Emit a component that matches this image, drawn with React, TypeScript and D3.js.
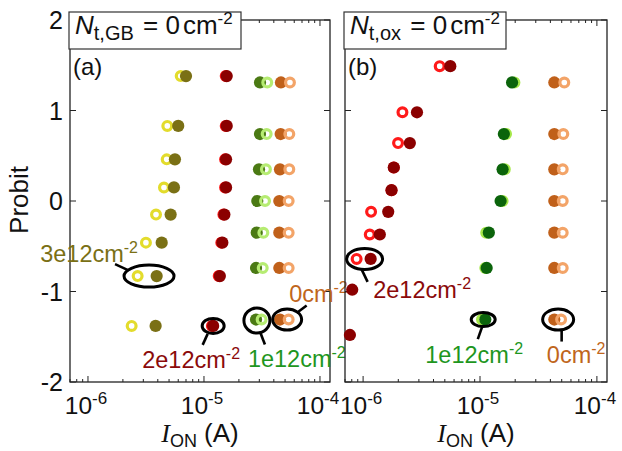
import React from 'react';
import * as d3 from 'd3';

// probit levels
const probit8 = [1.38, 0.83, 0.46, 0.15, -0.15, -0.46, -0.83, -1.38];
const probit7 = [1.31, 0.74, 0.35, 0, -0.35, -0.74, -1.31];
const probit10 = [1.49, 0.98, 0.64, 0.37, 0.12, -0.12, -0.37, -0.64, -0.98, -1.48];

// panel (a): N_t,GB = 0
const a3e12Open = [6.3e-6, 4.83e-6, 4.77e-6, 4.52e-6, 3.86e-6, 3.16e-6, 2.68e-6, 2.38e-6];
const a3e12Filled = [7.0e-6, 6.0e-6, 5.62e-6, 5.51e-6, 5.16e-6, 4.32e-6, 3.91e-6, 3.83e-6];
const a2e12Open = [1.54e-5, 1.54e-5, 1.52e-5, 1.52e-5, 1.47e-5, 1.41e-5, 1.34e-5, 1.17e-5];
const a2e12Filled = [1.57e-5, 1.57e-5, 1.55e-5, 1.55e-5, 1.5e-5, 1.44e-5, 1.37e-5, 1.2e-5];
const a1e12Filled = [3.04e-5, 3.04e-5, 2.98e-5, 2.88e-5, 2.85e-5, 2.81e-5, 2.81e-5];
const a1e12Open = [3.51e-5, 3.47e-5, 3.42e-5, 3.36e-5, 3.25e-5, 3.21e-5, 3.14e-5];
const a0Filled = [4.61e-5, 4.58e-5, 4.52e-5, 4.46e-5, 4.46e-5, 4.46e-5, 4.52e-5];
const a0Open = [5.51e-5, 5.44e-5, 5.44e-5, 5.37e-5, 5.37e-5, 5.37e-5, 5.37e-5];

// panel (b): N_t,ox = 0
const b2e12Open = [4.52e-6, 2.17e-6, 1.99e-6, 1.83e-6, 1.75e-6, 1.17e-6, 1.14e-6, 8.8e-7];
const b2e12Filled = [5.57e-6, 2.89e-6, 2.51e-6, 1.83e-6, 1.75e-6, 1.64e-6, 1.39e-6, 1.16e-6, 8.07e-7, 7.71e-7];
const b1e12Open = [1.97e-5, 1.67e-5, 1.63e-5, 1.56e-5, 1.13e-5, 1.11e-5, 1.04e-5];
const b1e12Filled = [1.88e-5, 1.6e-5, 1.56e-5, 1.5e-5, 1.19e-5, 1.14e-5, 1.11e-5];
const b0Filled = [4.32e-5, 4.32e-5, 4.32e-5, 4.32e-5, 4.32e-5, 4.32e-5, 4.32e-5];
const b0Open = [5.26e-5, 5.16e-5, 5.1e-5, 5.1e-5, 5.1e-5, 5.1e-5, 4.94e-5];

const yTicks = [-2, -1, 0, 1, 2];
const xTickExps = [-6, -5, -4];

interface Series { x: number[]; p: number[]; color: string; open: boolean }
interface Note {
  x: number; p: number; rx: number; ry: number;
  lead: [number, number, number, number];
  text: string; color: string; dx: number; dy: number; anchor: string;
}

const seriesA: Series[] = [
  { x: a3e12Open, p: probit8, color: '#e3dc2c', open: true },
  { x: a3e12Filled, p: probit8, color: '#7a7015', open: false },
  { x: a2e12Open, p: probit8, color: '#ff1a1a', open: true },
  { x: a2e12Filled, p: probit8, color: '#8b0000', open: false },
  { x: a1e12Filled, p: probit7, color: '#4b7a14', open: false },
  { x: a1e12Open, p: probit7, color: '#b6ec72', open: true },
  { x: a0Filled, p: probit7, color: '#c0601a', open: false },
  { x: a0Open, p: probit7, color: '#f3a468', open: true },
];

const seriesB: Series[] = [
  { x: b2e12Open, p: probit10.slice(0, 8), color: '#ff1a1a', open: true },
  { x: b2e12Filled, p: probit10, color: '#8b0000', open: false },
  { x: b1e12Open, p: probit7, color: '#a6e84a', open: true },
  { x: b1e12Filled, p: probit7, color: '#0b640b', open: false },
  { x: b0Filled, p: probit7, color: '#c0601a', open: false },
  { x: b0Open, p: probit7, color: '#f3a468', open: true },
];

const notesA: Note[] = [
  { x: 3.36e-6, p: -0.83, rx: 25, ry: 11, lead: [-34, -12, -21, -6], text: '3e12', color: '#7a7015', dx: -11, dy: -14, anchor: 'end' },
  { x: 1.2e-5, p: -1.38, rx: 11, ry: 7.5, lead: [-5.5, 8, -10.5, 19], text: '2e12', color: '#8b0a0a', dx: -22, dy: 42, anchor: 'middle' },
  { x: 2.86e-5, p: -1.32, rx: 13, ry: 12.5, lead: [3, 11, 8, 24], text: '1e12', color: '#1e961e', dx: -9, dy: 47, anchor: 'start' },
  { x: 5.21e-5, p: -1.31, rx: 14.5, ry: 10.5, lead: [9.5, -6.5, 19.5, -14], text: '0', color: '#c0661c', dx: 2, dy: -18, anchor: 'start' },
];

const notesB: Note[] = [
  { x: 1.03e-6, p: -0.64, rx: 18, ry: 10.5, lead: [-3, 10.5, 3, 23], text: '2e12', color: '#8b0a0a', dx: 8.6, dy: 39.5, anchor: 'start' },
  { x: 1.065e-5, p: -1.31, rx: 12, ry: 7, lead: [-1, 7, -5.4, 19.6], text: '1e12', color: '#1e961e', dx: -9, dy: 43, anchor: 'middle' },
  { x: 4.66e-5, p: -1.31, rx: 15.5, ry: 10.5, lead: [3.5, 10.3, 3.5, 22], text: '0', color: '#c0661c', dx: 18, dy: 43, anchor: 'middle' },
];

const SANS = '"Liberation Sans", Arial, sans-serif';
const SERIF = '"Liberation Serif", "Times New Roman", serif';
const top = 20;
const bottom = 382;

const Panel: React.FC<{
  left: number; right: number; series: Series[]; notes: Note[];
  tag: string; sub: string; boxW: number; yLabels: boolean;
}> = ({ left, right, series, notes, tag, sub, boxW, yLabels }) => {
  const x = d3.scaleLog().domain([7.0e-7, 1.22e-4]).range([left, right]);
  const y = d3.scaleLinear().domain([-2, 2]).range([bottom, top]);
  const ticks = x.ticks().filter(t => t >= 7.0e-7 && t <= 1.22e-4);
  const isMajor = (t: number) => Math.abs(Math.log10(t) - Math.round(Math.log10(t))) < 1e-6;
  const axisColor = '#222';

  return (
    <g>
      {/* frame */}
      <rect x={left} y={top} width={right - left} height={bottom - top} fill="none" stroke={axisColor} strokeWidth={1.3} />
      {ticks.map((t, i) => {
        const len = isMajor(t) ? 6 : 3;
        return (
          <g key={i} stroke={axisColor} strokeWidth={1}>
            <line x1={x(t)} x2={x(t)} y1={bottom} y2={bottom - len} />
            <line x1={x(t)} x2={x(t)} y1={top} y2={top + len} />
          </g>
        );
      })}
      {yTicks.map(t => (
        <g key={t} stroke={axisColor} strokeWidth={1}>
          <line x1={left} x2={left + 6} y1={y(t)} y2={y(t)} />
          <line x1={right} x2={right - 6} y1={y(t)} y2={y(t)} />
        </g>
      ))}
      {yLabels && yTicks.map(t => (
        <text key={t} x={left - 7} y={y(t)} dy="0.36em" textAnchor="end" fontSize={25} fontFamily={SANS} fill="#111">
          {t}
        </text>
      ))}
      {xTickExps.map(e => (
        <text key={e} x={x(Math.pow(10, e)) - 2} y={414} textAnchor="middle" fontSize={24.5} fontFamily={SANS} fill="#111">
          10<tspan fontSize={17} dy={-10}>{e}</tspan>
        </text>
      ))}
      <text x={(left + right) / 2} y={442} textAnchor="middle" fontSize={26} fontFamily={SANS} fill="#111">
        <tspan fontFamily={SERIF} fontStyle="italic">I</tspan>
        <tspan fontSize={18} dy={5}>ON</tspan>
        <tspan dy={-5}> (A)</tspan>
      </text>

      {/* markers */}
      {series.map((s, si) => (
        <g key={si}>
          {s.x.map((v, i) => s.open ? (
            <circle key={i} cx={x(v)} cy={y(s.p[i])} r={4.4} fill="none" stroke={s.color} strokeWidth={3.2} />
          ) : (
            <circle key={i} cx={x(v)} cy={y(s.p[i])} r={6.1} fill={s.color} />
          ))}
        </g>
      ))}

      {/* annotations */}
      {notes.map((n, i) => {
        const cx = x(n.x);
        const cy = y(n.p);
        return (
          <g key={i}>
            <ellipse cx={cx} cy={cy} rx={n.rx} ry={n.ry} fill="none" stroke="#000" strokeWidth={3} />
            <line x1={cx + n.lead[0]} y1={cy + n.lead[1]} x2={cx + n.lead[2]} y2={cy + n.lead[3]} stroke="#000" strokeWidth={2.6} />
            <text x={cx + n.dx} y={cy + n.dy} textAnchor={n.anchor} fontSize={23.5} fontFamily={SANS} fill={n.color}>
              {n.text}cm<tspan fontSize={16} dy={-9}>-2</tspan>
            </text>
          </g>
        );
      })}

      {/* legend box */}
      <rect x={left - 1} y={12} width={boxW} height={37} fill="#fff" stroke="#333" strokeWidth={1.2} />
      <text x={left + 5} y={34} fontSize={26} fontFamily={SANS} fill="#111">
        <tspan fontStyle="italic">N</tspan>
        <tspan fontSize={20} dy={6}>{sub}</tspan>
        <tspan dy={-6} dx={2}> = 0</tspan>
        <tspan dx={3}>cm</tspan>
        <tspan fontSize={17} dy={-10}>-2</tspan>
      </text>
      <text x={left + 3} y={75} fontSize={24} fontFamily={SANS} fill="#111">{tag}</text>
    </g>
  );
};

export default function App() {
  return (
    <div style={{ position: 'absolute', left: 0, top: 0 }}>
      <svg width={622} height={451} style={{ display: 'block', background: '#fff' }}>
        <text transform="translate(28,200) rotate(-90)" textAnchor="middle" fontSize={26} fontFamily={SANS} fill="#111">
          Probit
        </text>
        <Panel left={70} right={330} series={seriesA} notes={notesA} tag="(a)" sub="t,GB" boxW={172} yLabels />
        <Panel left={345} right={607} series={seriesB} notes={notesB} tag="(b)" sub="t,ox" boxW={162} yLabels={false} />
      </svg>
    </div>
  );
}
